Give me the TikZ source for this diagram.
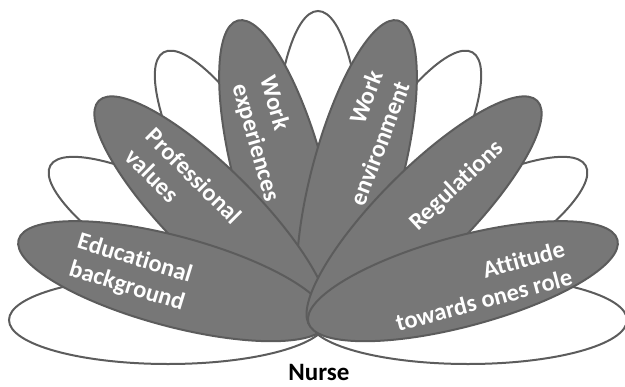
\documentclass[tikz,border=0pt]{standalone}
\usepackage{fontspec}
\setmainfont{Carlito}[Ligatures=NoCommon]
\definecolor{petalgray}{HTML}{777777}
\definecolor{edgegray}{HTML}{5C5C5C}
\tikzset{
  whitepetal/.style={draw=edgegray,line width=1pt,fill=white},
  graypetal/.style={draw=edgegray,line width=1pt,fill=petalgray},
  petaltext/.style={text=white,inner sep=0pt,font=\fontsize{12.2}{14.5}\selectfont\bfseries},
}
\begin{document}
\begin{tikzpicture}[x=0.5pt,y=0.5pt]
        \useasboundingbox (-318,-43) rectangle (307,343);
        \coordinate (Q) at (0,23);
        %% White petals
        \foreach \ang in {0,30,...,180}
            \draw[whitepetal,shift={(Q)},rotate=\ang] (150,0) ellipse (159 and 44);
        %% Grey petals
        \foreach \ang in {105,75,135,165,45,15}
            \draw[graypetal,shift={(Q)},rotate=\ang] (150,0) ellipse (160 and 45);
        %% Labels
        \node[petaltext,align=left,rotate=-17] (edu) at (-187,70) {Educational\\background};
        \node[petaltext,align=left,rotate=-45] (prof) at (-134,157) {Professional\\values};
        \node[petaltext,align=left,rotate=-74] (exp) at (-49,204) {Work\\experiences};
        \node[petaltext,align=right,rotate=69] (env) at (48,205) {Work\\environment};
        \node[petaltext,rotate=43] (reg) at (139,157) {Regulations};
        \node[petaltext,align=right,rotate=15] (att) at (162,57) {Attitude\\towards ones role};
        %% Centre
        \node[anchor=base,inner sep=0pt,font=\fontsize{12.5}{15}\selectfont\bfseries] (nurse) at (1,-37) {Nurse};
\end{tikzpicture}
\end{document}
